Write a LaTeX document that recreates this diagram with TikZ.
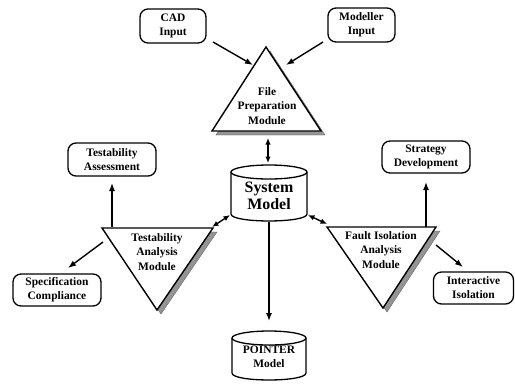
\documentclass[tikz,border=0pt]{standalone}
\usepackage{fontspec}
\setmainfont{Liberation Serif}
\usetikzlibrary{arrows.meta}
\begin{document}
\begin{tikzpicture}[x=1bp,y=-1bp,
  box/.style={draw, line width=1.3bp, rounded corners=8bp, align=center,
    font=\fontsize{11.5}{14}\selectfont\bfseries, inner sep=0pt},
  tri/.style={draw, line width=1.4bp, fill=white, line join=miter},
  shad/.style={fill=black!42, draw=black!65, line width=0.3bp},
  lbl/.style={align=center, font=\fontsize{11.5}{14.5}\selectfont\bfseries, inner sep=0pt},
  cyl/.style={draw, line width=1.3bp, fill=white},
  arr/.style={line width=1.4bp, -{Latex[length=8bp,width=6bp]}},
  darr/.style={line width=1.4bp, {Latex[length=6.5bp,width=5.5bp]}-{Latex[length=6.5bp,width=5.5bp]}}
]
\useasboundingbox (0,0) rectangle (515,383);

% boxes
\node[box, minimum width=66bp, minimum height=34bp] (cad) at (173,26) {CAD\\Input};
\node[box, minimum width=67bp, minimum height=34bp] (mod) at (361.5,25) {Modeller\\Input};
\node[box, minimum width=88bp, minimum height=33bp] (assess) at (112,159.5) {Testability\\Assessment};
\node[box, minimum width=88bp, minimum height=32bp] (strat) at (426,157) {Strategy\\Development};
\node[box, minimum width=88bp, minimum height=32bp] (spec) at (57,290) {Specification\\Compliance};
\node[box, minimum width=80bp, minimum height=32bp] (inter) at (473.5,288) {Interactive\\Isolation};

% File preparation triangle
\fill[shad] (270,51) -- (325,135) -- (216,135) -- cycle;
\draw[tri] (266,47) -- (321,131) -- (212,131) -- cycle;
\node[lbl] (fp) at (267,106) {File\\Preparation\\Module};

% Testability analysis triangle
\fill[shad] (106,232) -- (217,232) -- (161,314) -- cycle;
\draw[tri] (102,228) -- (213,228) -- (157,310) -- cycle;
\node[lbl] (tam) at (157,252) {Testability\\Analysis\\Module};

% Fault isolation triangle
\fill[shad] (331,231) -- (440,231) -- (387,312) -- cycle;
\draw[tri] (327,227) -- (436,227) -- (383,308) -- cycle;
\node[lbl] (fia) at (381,250) {Fault Isolation\\Analysis\\Module};

% System Model cylinder
\draw[cyl] (231,172) -- (231,214) .. controls (231,223.3) and (307,223.3) .. (307,214) -- (307,172);
\draw[cyl] (269,172) ellipse[x radius=38, y radius=7];
\node[align=center, font=\fontsize{16}{17.5}\selectfont\bfseries, inner sep=0pt] (sm) at (269,196) {System\\Model};

% POINTER Model cylinder
\draw[cyl] (232,338) -- (232,373) .. controls (232,382.3) and (306,382.3) .. (306,373) -- (306,338);
\draw[cyl] (269,338) ellipse[x radius=37, y radius=7];
\node[lbl] (pm) at (269,357) {POINTER\\Model};

% connector end points
\coordinate (cadout) at (213,42);
\coordinate (fpin1) at (253,65);
\coordinate (modout) at (323,42);
\coordinate (fpin2) at (286,65);
\coordinate (fpbot) at (268,138);
\coordinate (smtop) at (268,163);
\coordinate (smleft) at (230,215);
\coordinate (tamR) at (212,227);
\coordinate (smright) at (308,215);
\coordinate (fiaL) at (327,224);
\coordinate (smbot) at (269,222);
\coordinate (pmtop) at (269,321);
\coordinate (tamtop) at (112,227);
\coordinate (assessin) at (112,183);
\coordinate (tamleft) at (103,242);
\coordinate (specin) at (68,268);
\coordinate (fiatop) at (426,227);
\coordinate (stratin) at (426,182);
\coordinate (fiaright) at (436,245);
\coordinate (interin) at (463,267);

% connectors
\draw[arr] (cadout) -- (fpin1);
\draw[arr] (modout) -- (fpin2);
\draw[darr] (fpbot) -- (smtop);
\draw[darr] (tamR) -- (smleft);
\draw[darr] (smright) -- (fiaL);
\draw[arr] (smbot) -- (pmtop);
\draw[arr] (tamtop) -- (assessin);
\draw[arr] (tamleft) -- (specin);
\draw[arr] (fiatop) -- (stratin);
\draw[arr] (fiaright) -- (interin);
\end{tikzpicture}
\end{document}
